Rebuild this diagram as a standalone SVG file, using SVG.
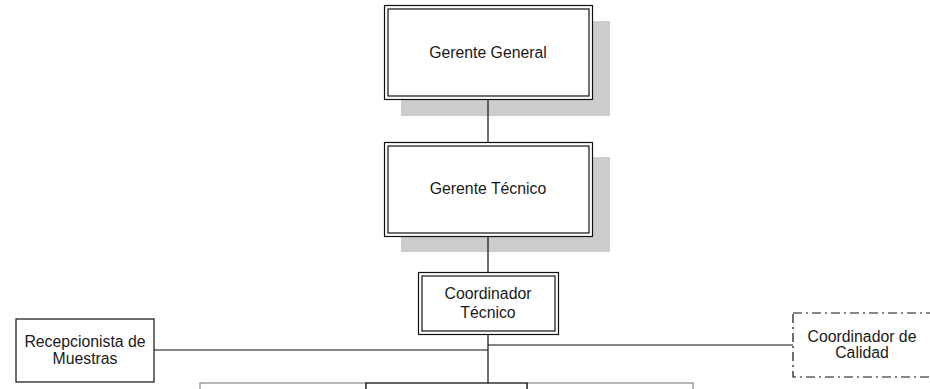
<svg xmlns="http://www.w3.org/2000/svg" width="930" height="389" viewBox="0 0 930 389">
  <style>
    .lbl { font-family: "Liberation Sans", Arial, sans-serif; font-size: 15.8px; fill: #1a1a1a; text-anchor: middle; }
    .shadow { fill: #cccccc; stroke: none; }
    .box { fill: #ffffff; stroke: #111; stroke-width: 1.2; }
    .inner { fill: none; stroke: #111; stroke-width: 1.2; }
    .conn { fill: none; stroke: #111; stroke-width: 1.2; }
    .dashdot { fill: #ffffff; stroke: #111; stroke-width: 1.2; stroke-dasharray: 9 4 2 4; }
  </style>
  <rect width="930" height="389" fill="#ffffff"/>

  <!-- shadows behind the two manager boxes -->
  <rect class="shadow" x="401" y="21" width="209" height="95"/>
  <rect class="shadow" x="401" y="157" width="209" height="95"/>

  <g id="connectors">
    <line class="conn" x1="488" y1="99" x2="488" y2="142"/>
    <line class="conn" x1="488" y1="236" x2="488" y2="272"/>
    <line class="conn" x1="488" y1="335" x2="488" y2="383" stroke-width="2"/>
    <line class="conn" x1="154" y1="350" x2="488" y2="350"/>
    <line class="conn" x1="488" y1="345" x2="793" y2="345"/>
  </g>

  <g id="gerente-general">
    <rect class="box" x="384.5" y="5.5" width="208" height="94"/>
    <rect class="inner" x="388" y="9" width="201" height="87"/>
    <text class="lbl" x="488" y="58">Gerente General</text>
  </g>

  <g id="gerente-tecnico">
    <rect class="box" x="384.5" y="142.5" width="208" height="94"/>
    <rect class="inner" x="388" y="146" width="201" height="87"/>
    <text class="lbl" x="488" y="194">Gerente Técnico</text>
  </g>

  <g id="coordinador-tecnico">
    <rect class="box" x="418.5" y="272.5" width="140" height="62"/>
    <rect class="inner" x="422" y="276" width="133" height="55"/>
    <text class="lbl" x="488" y="299">Coordinador</text>
    <text class="lbl" x="488" y="318">Técnico</text>
  </g>

  <g id="recepcionista">
    <rect class="box" x="16" y="319" width="138" height="63"/>
    <text class="lbl" x="85" y="347">Recepcionista de</text>
    <text class="lbl" x="85" y="364">Muestras</text>
  </g>

  <g id="coordinador-calidad">
    <rect class="dashdot" x="793" y="313" width="150" height="64"/>
    <text class="lbl" x="862" y="342">Coordinador de</text>
    <text class="lbl" x="862" y="358">Calidad</text>
  </g>

  <!-- lower row of boxes, only their top edges fall inside the page -->
  <g id="area-1">
    <rect x="200" y="383" width="166" height="20" fill="#ffffff" stroke="#888" stroke-width="1.2"/>
  </g>
  <g id="area-3">
    <rect x="527" y="383" width="166" height="20" fill="#ffffff" stroke="#888" stroke-width="1.2"/>
  </g>
  <g id="area-2">
    <rect x="366" y="383" width="161" height="20" fill="#ffffff" stroke="#111" stroke-width="1.3"/>
  </g>
</svg>
